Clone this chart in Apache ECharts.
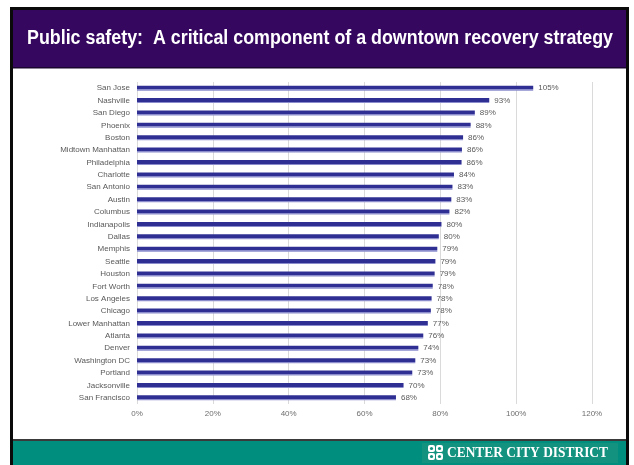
<!DOCTYPE html>
<html>
<head>
<meta charset="utf-8">
<script src="https://cdn.jsdelivr.net/npm/echarts@6/dist/echarts.min.js"></script>
<style>
html,body{margin:0;padding:0;background:#fff;}
#chart{width:634px;height:465px;}
</style>
</head>
<body>
<div id="chart"></div>
<script>
// Data
var titleText = 'Public safety:  A critical component of a downtown recovery strategy';
var footerText = 'CENTER CITY DISTRICT';
var cities = ['San Jose','Nashville','San Diego','Phoenix','Boston','Midtown Manhattan','Philadelphia','Charlotte','San Antonio','Austin','Columbus','Indianapolis','Dallas','Memphis','Seattle','Houston','Fort Worth','Los Angeles','Chicago','Lower Manhattan','Atlanta','Denver','Washington DC','Portland','Jacksonville','San Francisco'];
var recovery = [104.5, 92.9, 89.1, 88.0, 86.0, 85.7, 85.6, 83.6, 83.2, 82.9, 82.4, 80.3, 79.6, 79.2, 78.7, 78.5, 78.0, 77.7, 77.5, 76.7, 75.5, 74.2, 73.4, 72.6, 70.3, 68.3];
var xTicks = {min: 0, max: 120, interval: 20};

var titleFont = 'bold 20px "Liberation Sans", Arial, sans-serif';
var footerFont = 'bold 15px "Liberation Serif", "Times New Roman", serif';
function measure(text, font) {
  var c = document.createElement('canvas').getContext('2d');
  c.font = font;
  return c.measureText(text).width;
}
var titleScale = 586 / measure(titleText, titleFont);
var footerScale = 161 / measure(footerText, footerFont);

var chart = echarts.init(document.getElementById('chart'), null, {renderer: 'canvas'});

var barColor = new echarts.graphic.LinearGradient(0, 0, 0, 1, [
  {offset: 0, color: '#2f2f93'},
  {offset: 0.72, color: '#2f2f93'},
  {offset: 0.73, color: '#8a8ccc'},
  {offset: 1, color: '#8a8ccc'}
]);

var option = {
  animation: false,
  backgroundColor: '#ffffff',
  grid: {left: 137, right: 42, top: 82, bottom: 61, containLabel: false},
  xAxis: {
    type: 'value',
    min: xTicks.min, max: xTicks.max, interval: xTicks.interval,
    axisLine: {show: false},
    axisTick: {show: false},
    axisLabel: {
      formatter: function (v) { return v + '%'; },
      fontSize: 8, color: '#6e6e6e', margin: 6,
      fontFamily: 'Liberation Sans, Arial, sans-serif'
    },
    splitLine: {show: true, lineStyle: {color: '#dadada', width: 1}}
  },
  yAxis: {
    type: 'category',
    data: cities,
    inverse: true,
    axisLine: {show: false},
    axisTick: {show: false},
    axisLabel: {
      fontSize: 8, color: '#595959', margin: 7,
      fontFamily: 'Liberation Sans, Arial, sans-serif'
    },
    splitLine: {show: false}
  },
  series: [{
    type: 'bar',
    data: recovery,
    barWidth: 5,
    itemStyle: {color: barColor},
    label: {
      show: true,
      position: 'right',
      distance: 5,
      fontSize: 8,
      color: '#5a5a5a',
      fontFamily: 'Liberation Sans, Arial, sans-serif',
      formatter: function (p) { return Math.round(p.value) + '%'; }
    }
  }],
  graphic: [
    // frame
    {type: 'rect', z: -10, silent: true, shape: {x: 10, y: 7, width: 619, height: 458}, style: {fill: '#0a0a0a'}},
    {type: 'rect', z: -9, silent: true, shape: {x: 13, y: 10, width: 613, height: 455}, style: {fill: '#ffffff'}},
    // header
    {type: 'rect', z: 5, silent: true, shape: {x: 13, y: 10, width: 613, height: 58}, style: {fill: '#36075f'}},
    {type: 'rect', z: 5, silent: true, shape: {x: 13, y: 67, width: 613, height: 1.5}, style: {fill: '#1a0530'}},
    {type: 'text', z: 6, silent: true, x: 320, y: 38, scaleX: titleScale,
      style: {text: titleText, fill: '#ffffff', font: titleFont,
        align: 'center', verticalAlign: 'middle'}},
    // footer
    {type: 'rect', z: 5, silent: true, shape: {x: 13, y: 439, width: 613, height: 2}, style: {fill: '#3a3a3a'}},
    {type: 'rect', z: 5, silent: true, shape: {x: 13, y: 441, width: 613, height: 24}, style: {fill: '#008f7e'}},
    {type: 'rect', z: 5, silent: true, shape: {x: 422, y: 443, width: 196, height: 20}, style: {fill: '#12927f'}},
    // logo icon (2x2 tiles)
    {type: 'rect', z: 6, silent: true, shape: {x: 428, y: 445, width: 7, height: 7, r: 2}, style: {fill: '#ffffff'}},
    {type: 'rect', z: 6, silent: true, shape: {x: 436, y: 445, width: 7, height: 7, r: 2}, style: {fill: '#ffffff'}},
    {type: 'rect', z: 6, silent: true, shape: {x: 428, y: 453, width: 7, height: 7, r: 2}, style: {fill: '#ffffff'}},
    {type: 'rect', z: 6, silent: true, shape: {x: 436, y: 453, width: 7, height: 7, r: 2}, style: {fill: '#ffffff'}},
    {type: 'circle', z: 7, silent: true, shape: {cx: 431.5, cy: 448.5, r: 1.6}, style: {fill: '#12927f'}},
    {type: 'circle', z: 7, silent: true, shape: {cx: 439.5, cy: 448.5, r: 1.6}, style: {fill: '#12927f'}},
    {type: 'circle', z: 7, silent: true, shape: {cx: 431.5, cy: 456.5, r: 1.6}, style: {fill: '#12927f'}},
    {type: 'circle', z: 7, silent: true, shape: {cx: 439.5, cy: 456.5, r: 1.6}, style: {fill: '#12927f'}},
    {type: 'text', z: 6, silent: true, x: 447, y: 453, scaleX: footerScale,
      style: {text: footerText, fill: '#ffffff', font: footerFont,
        align: 'left', verticalAlign: 'middle'}}
  ]
};
chart.setOption(option);
</script>
</body>
</html>
